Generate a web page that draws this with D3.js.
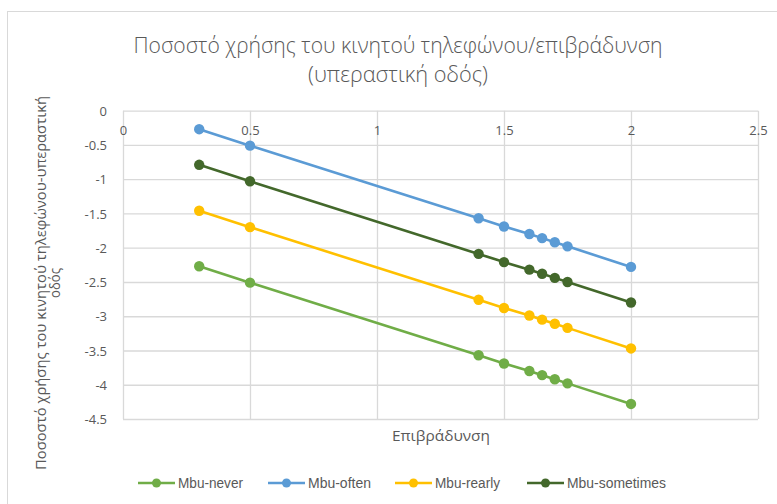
<!DOCTYPE html>
<html>
<head>
<meta charset="utf-8">
<script src="https://cdn.jsdelivr.net/npm/d3@7"></script>
<style>
  html, body { margin: 0; padding: 0; background: #fff; }
  svg { display: block; }
  text { fill: #595959; }
</style>
</head>
<body>
<svg id="chart" width="777" height="504"></svg>
<script>
// Deceleration (x) for every measurement
const decel = [0.3, 0.5, 1.4, 1.5, 1.6, 1.65, 1.7, 1.75, 2.0];

// Mobile-phone-use share per category
const mbuNever     = [-2.27, -2.51, -3.57, -3.69, -3.80, -3.86, -3.92, -3.98, -4.28];
const mbuOften     = [-0.27, -0.51, -1.57, -1.69, -1.80, -1.86, -1.92, -1.98, -2.28];
const mbuRearly    = [-1.46, -1.70, -2.76, -2.88, -2.99, -3.05, -3.11, -3.17, -3.47];
const mbuSometimes = [-0.79, -1.03, -2.09, -2.21, -2.32, -2.38, -2.44, -2.50, -2.80];

const seriesNames = ["Mbu-never", "Mbu-often", "Mbu-rearly", "Mbu-sometimes"];
const seriesColors = ["#70AD47", "#5B9BD5", "#FFC000", "#43682B"];

const xTicks = [0, 0.5, 1, 1.5, 2, 2.5];
const yTicks = [0, -0.5, -1, -1.5, -2, -2.5, -3, -3.5, -4, -4.5];

const titleLines = ["Ποσοστό χρήσης του κινητού τηλεφώνου/επιβράδυνση", "(υπεραστική οδός)"];
const xTitle = "Επιβράδυνση";
const yTitleLines = ["Ποσοστό χρήσης του κινητού τηλεφώνου-υπεραστική", "οδός"];

const series = [mbuNever, mbuOften, mbuRearly, mbuSometimes].map((vals, i) => ({
  name: seriesNames[i],
  color: seriesColors[i],
  points: vals.map((v, j) => ({ x: decel[j], y: v }))
}));

const svg = d3.select("#chart");
const plot = { left: 123, right: 758, top: 110.7, bottom: 419 };

const x = d3.scaleLinear().domain([0, 2.5]).range([plot.left, plot.right]);
const y = d3.scaleLinear().domain([0, -4.5]).range([plot.top, plot.bottom]);

const sans = "'Open Sans', 'Liberation Sans', sans-serif";
const narrow = "'Liberation Sans Narrow', 'Liberation Sans', sans-serif";

// squeeze a text node to a set width
function fitWidth(sel, w) {
  sel.attr("textLength", w).attr("lengthAdjust", "spacingAndGlyphs");
}

// outer chart frame
svg.append("rect")
  .attr("x", 7.5).attr("y", 11.5)
  .attr("width", 800).attr("height", 520)
  .attr("fill", "none").attr("stroke", "#d9d9d9").attr("stroke-width", 1);

// title
const title = svg.append("g");
title.append("text")
  .attr("x", 398).attr("y", 53)
  .attr("text-anchor", "middle")
  .style("font-family", sans).style("font-weight", 300).style("font-size", "22px")
  .text(titleLines[0])
  .call(fitWidth, 529);
title.append("text")
  .attr("x", 398).attr("y", 82)
  .attr("text-anchor", "middle")
  .style("font-family", sans).style("font-weight", 300).style("font-size", "22px")
  .text(titleLines[1])
  .call(fitWidth, 180);

// horizontal gridlines + y labels
const yAxis = d3.axisLeft(y).tickValues(yTicks).tickSize(-(plot.right - plot.left))
  .tickFormat(d => d === 0 ? "0" : d3.format("")(d).replace("−", "-"));
const gy = svg.append("g").attr("transform", `translate(${plot.left},0)`).call(yAxis);
gy.select(".domain").remove();
gy.selectAll(".tick line").attr("stroke", "#d9d9d9").attr("stroke-width", 1.3);
gy.selectAll(".tick text")
  .attr("x", -16).attr("dy", "0.35em")
  .style("font-family", sans).style("font-size", "13px").attr("fill", "#595959");

// vertical gridlines + x labels placed under the zero line
const xAxis = d3.axisTop(x).tickValues(xTicks).tickSize(-(plot.bottom - plot.top))
  .tickFormat(d => String(d));
const gx = svg.append("g").attr("transform", `translate(0,${plot.top})`).call(xAxis);
gx.select(".domain").remove();
gx.selectAll(".tick line").attr("stroke", "#d9d9d9").attr("stroke-width", 1.3);
gx.selectAll(".tick text")
  .attr("y", 20).attr("dy", "0.35em")
  .style("font-family", sans).style("font-size", "13px").attr("fill", "#595959");

// axis titles
svg.append("text")
  .attr("x", 441).attr("y", 441)
  .attr("text-anchor", "middle")
  .style("font-family", sans).style("font-size", "14px")
  .text(xTitle)
  .call(fitWidth, 98);

const yt = svg.append("g").attr("transform", "translate(46,283) rotate(-90)");
yt.append("text")
  .attr("x", 0).attr("y", 0)
  .attr("text-anchor", "middle")
  .style("font-family", sans).style("font-size", "14px")
  .text(yTitleLines[0])
  .call(fitWidth, 374);
yt.append("text")
  .attr("x", 0).attr("y", 14)
  .attr("text-anchor", "middle")
  .style("font-family", sans).style("font-size", "14px")
  .text(yTitleLines[1])
  .call(fitWidth, 30);

// series lines and markers
const line = d3.line().x(d => x(d.x)).y(d => y(d.y));
const gs = svg.append("g").selectAll("g").data(series).join("g");
gs.append("path")
  .attr("d", d => line(d.points))
  .attr("fill", "none")
  .attr("stroke", d => d.color)
  .attr("stroke-width", 2.6)
  .attr("stroke-linejoin", "round");
gs.selectAll("circle").data(d => d.points.map(p => ({ ...p, color: d.color })))
  .join("circle")
  .attr("cx", d => x(d.x)).attr("cy", d => y(d.y))
  .attr("r", 5.2)
  .attr("fill", d => d.color);

// legend
const legendX = [138, 268, 395, 527];
const legendTextW = [65, 63, 65, 99];
const lg = svg.append("g").selectAll("g").data(series).join("g")
  .attr("transform", (d, i) => `translate(${legendX[i]},483)`);
lg.append("line")
  .attr("x1", 0).attr("x2", 37).attr("y1", 0).attr("y2", 0)
  .attr("stroke", d => d.color).attr("stroke-width", 2.6);
lg.append("circle")
  .attr("cx", 18.5).attr("cy", 0).attr("r", 4.5)
  .attr("fill", d => d.color);
lg.append("text")
  .attr("x", 40).attr("y", 0).attr("dy", "0.35em")
  .style("font-family", narrow).style("font-size", "14px")
  .text(d => d.name)
  .each(function(d, i) { d3.select(this).call(fitWidth, legendTextW[i]); });
</script>
</body>
</html>
